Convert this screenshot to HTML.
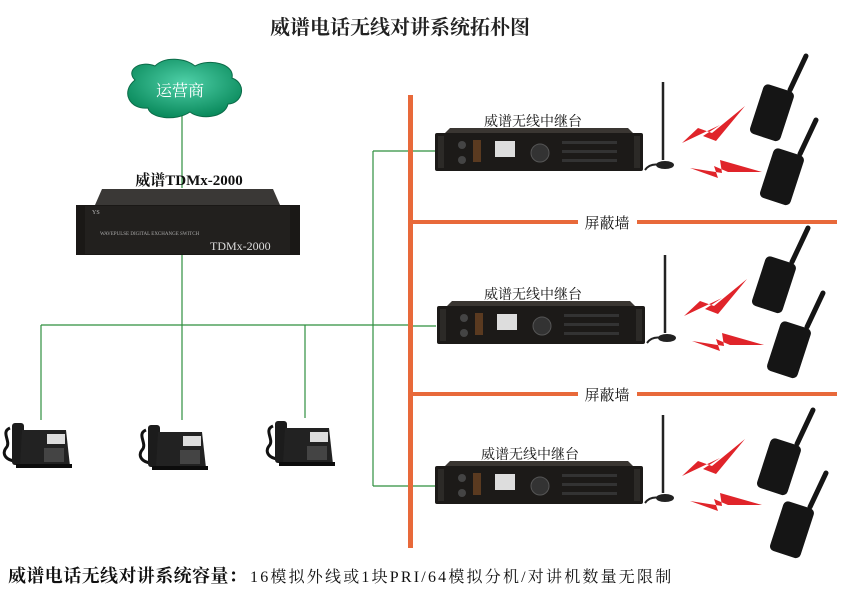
<!DOCTYPE html>
<html><head><meta charset="utf-8"><style>
html,body{margin:0;padding:0;background:#fff;}
svg{display:block;}
text{font-family:"Liberation Serif","Noto Serif CJK SC","Noto Sans CJK SC",serif;}
</style></head><body>
<svg width="851" height="590" viewBox="0 0 851 590" xmlns="http://www.w3.org/2000/svg">
<defs>
<radialGradient id="cg" cx="50%" cy="40%" r="60%"><stop offset="0" stop-color="#4fd0a8"/><stop offset="1" stop-color="#0a8a5c"/></radialGradient>
<g id="rep">
  <rect x="435" y="133" width="208" height="38" fill="#1c1a18" rx="2"/>
  <polygon points="445,133 633,133 628,128 450,128" fill="#3a3632"/>
  <rect x="438" y="136" width="6" height="32" fill="#2c2a27"/>
  <rect x="634" y="136" width="6" height="32" fill="#2c2a27"/>
  <circle cx="462" cy="145" r="4" fill="#444"/><circle cx="462" cy="160" r="4" fill="#444"/>
  <rect x="473" y="140" width="8" height="22" fill="#5a3a20"/>
  <rect x="495" y="141" width="20" height="16" fill="#ddd"/>
  <circle cx="540" cy="153" r="9" fill="#333" stroke="#555"/>
  <rect x="562" y="141" width="55" height="3" fill="#333"/><rect x="562" y="150" width="55" height="3" fill="#333"/><rect x="562" y="159" width="55" height="3" fill="#333"/>
  <line x1="663" y1="82" x2="663" y2="160" stroke="#222" stroke-width="2.5"/>
  <ellipse cx="665" cy="165" rx="9" ry="4" fill="#222"/>
  <path d="M645,170 Q650,163 660,165" stroke="#222" fill="none" stroke-width="2"/>
  <polygon points="682,143 720,125 703,136 716,141 745,106 712,133 698,128" fill="#e0242a"/>
  <polygon points="690,168 718,178 714,166 728,172 762,172 720,160 722,173" fill="#e0242a"/>
</g>
<g id="radio">
  <rect x="-16" y="0" width="32" height="52" rx="5" fill="#151515" transform="rotate(18)"/>
  <line x1="10" y1="2" x2="26" y2="-32" stroke="#151515" stroke-width="5" stroke-linecap="round"/>
</g>
<g id="phone">
  <path d="M8,10 C-2,14 10,24 4,30 C-2,38 8,46 22,42" stroke="#111" stroke-width="3" fill="none"/>
  <rect x="10" y="5" width="12" height="42" rx="3" fill="#1c1c1c"/>
  <polygon points="20,12 64,12 68,48 18,48" fill="#222"/>
  <rect x="45" y="16" width="18" height="10" fill="#ddd"/>
  <rect x="42" y="30" width="20" height="14" fill="#444"/>
  <rect x="14" y="46" width="56" height="4" fill="#0c0c0c"/>
</g>
</defs>
<text x="400" y="34" text-anchor="middle" font-size="20" font-weight="bold" fill="#222">威谱电话无线对讲系统拓朴图</text>
<g stroke="#2f8f3f" stroke-width="1.2" fill="none">
  <line x1="182" y1="115" x2="182" y2="188"/>
  <line x1="182" y1="254" x2="182" y2="325"/>
  <line x1="41" y1="325" x2="410" y2="325"/>
  <line x1="41" y1="325" x2="41" y2="420"/>
  <line x1="182" y1="325" x2="182" y2="420"/>
  <line x1="305" y1="325" x2="305" y2="418"/>
  <line x1="373" y1="151" x2="373" y2="486"/>
  <line x1="373" y1="151" x2="436" y2="151"/>
  <line x1="410" y1="326" x2="436" y2="326"/>
  <line x1="373" y1="486" x2="436" y2="486"/>
</g>
<path d="M135,80 C125,70 140,60 155,66 C165,56 185,58 195,66 C210,58 235,64 232,78 C248,84 242,104 228,104 C225,118 200,120 190,112 C175,122 150,118 148,108 C130,110 120,92 135,80 Z" fill="url(#cg)" stroke="#0b6b48"/>
<text x="180" y="96" text-anchor="middle" font-size="16" fill="#fff">运营商</text>
<text x="189" y="185" text-anchor="middle" font-size="15" font-weight="bold" fill="#111">威谱TDMx-2000</text>
<polygon points="95,205 280,205 273,189 102,189" fill="#3a3836"/>
<rect x="76" y="205" width="224" height="50" fill="#1a1816"/>
<rect x="85" y="206" width="205" height="48" fill="#22201e"/>
<text x="92" y="214" font-size="6" fill="#bbb" font-family="Liberation Sans,sans-serif">YS</text>
<text x="100" y="235" font-size="5" fill="#aaa" font-family="Liberation Sans,sans-serif">WAVEPULSE DIGITAL EXCHANGE SWITCH</text>
<text x="210" y="250" font-size="12" fill="#ddd" font-family="Liberation Sans,sans-serif">TDMx-2000</text>
<g fill="#e8693a">
  <rect x="408" y="95" width="5" height="453"/>
  <rect x="410" y="220" width="168" height="4"/>
  <rect x="637" y="220" width="200" height="4"/>
  <rect x="410" y="392" width="168" height="4"/>
  <rect x="637" y="392" width="200" height="4"/>
</g>
<text x="607" y="228" text-anchor="middle" font-size="15" fill="#111">屏蔽墙</text>
<text x="607" y="400" text-anchor="middle" font-size="15" fill="#111">屏蔽墙</text>
<use href="#rep"/>
<use href="#rep" transform="translate(2,173)"/>
<use href="#rep" transform="translate(0,333)"/>
<text x="533" y="126" text-anchor="middle" font-size="14" fill="#111">威谱无线中继台</text>
<text x="533" y="299" text-anchor="middle" font-size="14" fill="#111">威谱无线中继台</text>
<text x="530" y="459" text-anchor="middle" font-size="14" fill="#111">威谱无线中继台</text>
<use href="#radio" transform="translate(780,88)"/>
<use href="#radio" transform="translate(790,152)"/>
<use href="#radio" transform="translate(782,260)"/>
<use href="#radio" transform="translate(797,325)"/>
<use href="#radio" transform="translate(787,442)"/>
<use href="#radio" transform="translate(800,505)"/>
<use href="#phone" transform="translate(2,418)"/>
<use href="#phone" transform="translate(138,420)"/>
<use href="#phone" transform="translate(265,416)"/>
<text x="8" y="582" font-size="18" font-weight="bold" letter-spacing="0.4" fill="#111">威谱电话无线对讲系统容量：</text>
<text x="250" y="582" font-size="16" letter-spacing="2.2" fill="#111">16模拟外线或1块PRI/64模拟分机/对讲机数量无限制</text>
</svg>
</body></html>
